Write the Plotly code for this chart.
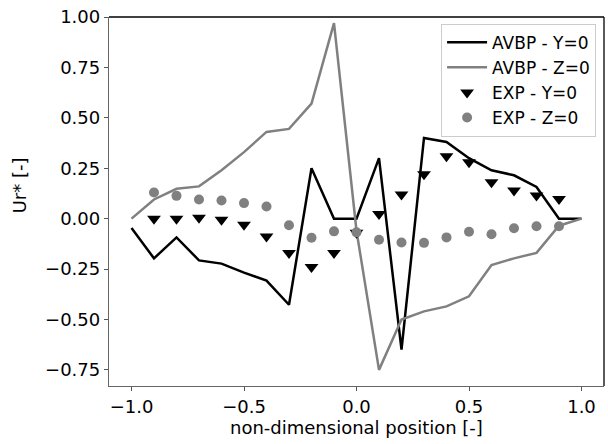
import plotly.graph_objects as go

x_avbp = [-1.0, -0.9, -0.8, -0.7, -0.6, -0.5, -0.4, -0.3, -0.2, -0.1, 0.0,
          0.1, 0.2, 0.3, 0.4, 0.5, 0.6, 0.7, 0.8, 0.9, 1.0]
avbp_y0 = [-0.047, -0.197, -0.093, -0.207, -0.223, -0.268, -0.307, -0.427, 0.25, 0.0, 0.0,
           0.30, -0.65, 0.40, 0.38, 0.30, 0.24, 0.215, 0.157, 0.0, 0.0]
avbp_z0 = [0.0, 0.095, 0.148, 0.16, 0.24, 0.33, 0.43, 0.445, 0.57, 0.97, -0.06,
           -0.75, -0.50, -0.46, -0.435, -0.385, -0.23, -0.197, -0.17, -0.035, 0.0]

x_exp = [-0.9, -0.8, -0.7, -0.6, -0.5, -0.4, -0.3, -0.2, -0.1, 0.0,
         0.1, 0.2, 0.3, 0.4, 0.5, 0.6, 0.7, 0.8, 0.9]
exp_y0 = [0.0, 0.0, 0.005, -0.005, -0.03, -0.088, -0.17, -0.24, -0.17, -0.07,
          0.023, 0.12, 0.22, 0.31, 0.28, 0.18, 0.14, 0.115, 0.098]
exp_z0 = [0.13, 0.113, 0.095, 0.09, 0.077, 0.06, -0.033, -0.095, -0.063, -0.068,
          -0.105, -0.118, -0.12, -0.093, -0.065, -0.077, -0.048, -0.038, -0.038]

x_ticks = [-1.0, -0.5, 0.0, 0.5, 1.0]
y_ticks = [-0.75, -0.5, -0.25, 0.0, 0.25, 0.5, 0.75, 1.0]

GRAY = "#808080"
FONT = "DejaVu Sans"

fig = go.Figure()
fig.add_trace(go.Scatter(x=x_avbp, y=avbp_y0, mode="lines", name="AVBP - Y=0",
                         line=dict(color="black", width=2.5)))
fig.add_trace(go.Scatter(x=x_avbp, y=avbp_z0, mode="lines", name="AVBP - Z=0",
                         line=dict(color=GRAY, width=2.5)))
fig.add_trace(go.Scatter(x=x_exp, y=exp_y0, mode="markers", name="EXP - Y=0",
                         marker=dict(symbol="triangle-down", color="black", size=12)))
fig.add_trace(go.Scatter(x=x_exp, y=exp_z0, mode="markers", name="EXP - Z=0",
                         marker=dict(symbol="circle", color=GRAY, size=10)))

axis_common = dict(
    showgrid=False, zeroline=False, showline=True, linecolor="#666666", linewidth=1.3,
    ticks="outside", ticklen=4, tickwidth=1.2, tickcolor="#555555",
    tickfont=dict(family=FONT, size=18, color="black"), automargin=False,
)

fig.update_layout(
    width=608, height=444,
    margin=dict(l=109, r=4, t=17, b=58),
    paper_bgcolor="white", plot_bgcolor="white",
    font=dict(family=FONT, color="black"),
    xaxis=dict(range=[-1.1, 1.1], tickvals=x_ticks, tickformat=".1f", **axis_common),
    yaxis=dict(range=[-0.83, 1.0], tickvals=y_ticks, tickformat=".2f", **axis_common),
    legend=dict(x=0.984, y=0.982, xanchor="right", yanchor="top",
                bgcolor="rgba(255,255,255,0.8)", bordercolor="#cccccc", borderwidth=1,
                font=dict(family=FONT, size=17), tracegroupgap=0, itemwidth=40),
    showlegend=True,
    shapes=[
        dict(type="line", xref="paper", yref="paper", x0=0, x1=1, y0=1, y1=1,
             line=dict(color="black", width=1.3)),
        dict(type="line", xref="paper", yref="paper", x0=1, x1=1, y0=0, y1=1,
             line=dict(color="black", width=1.3)),
    ],
    annotations=[
        dict(text="non-dimensional position [-]", xref="paper", yref="paper",
             x=0.5, y=-0.113, xanchor="center", yanchor="middle", showarrow=False,
             font=dict(family=FONT, size=18, color="black")),
        dict(text="Ur* [-]", xref="paper", yref="paper",
             x=-0.181, y=0.545, xanchor="center", yanchor="middle", showarrow=False,
             textangle=-90, font=dict(family=FONT, size=18, color="black")),
    ],
)

fig.write_html("out.html", config={"displayModeBar": False},
               post_script="document.body.style.margin='0';document.body.style.padding='0';")
